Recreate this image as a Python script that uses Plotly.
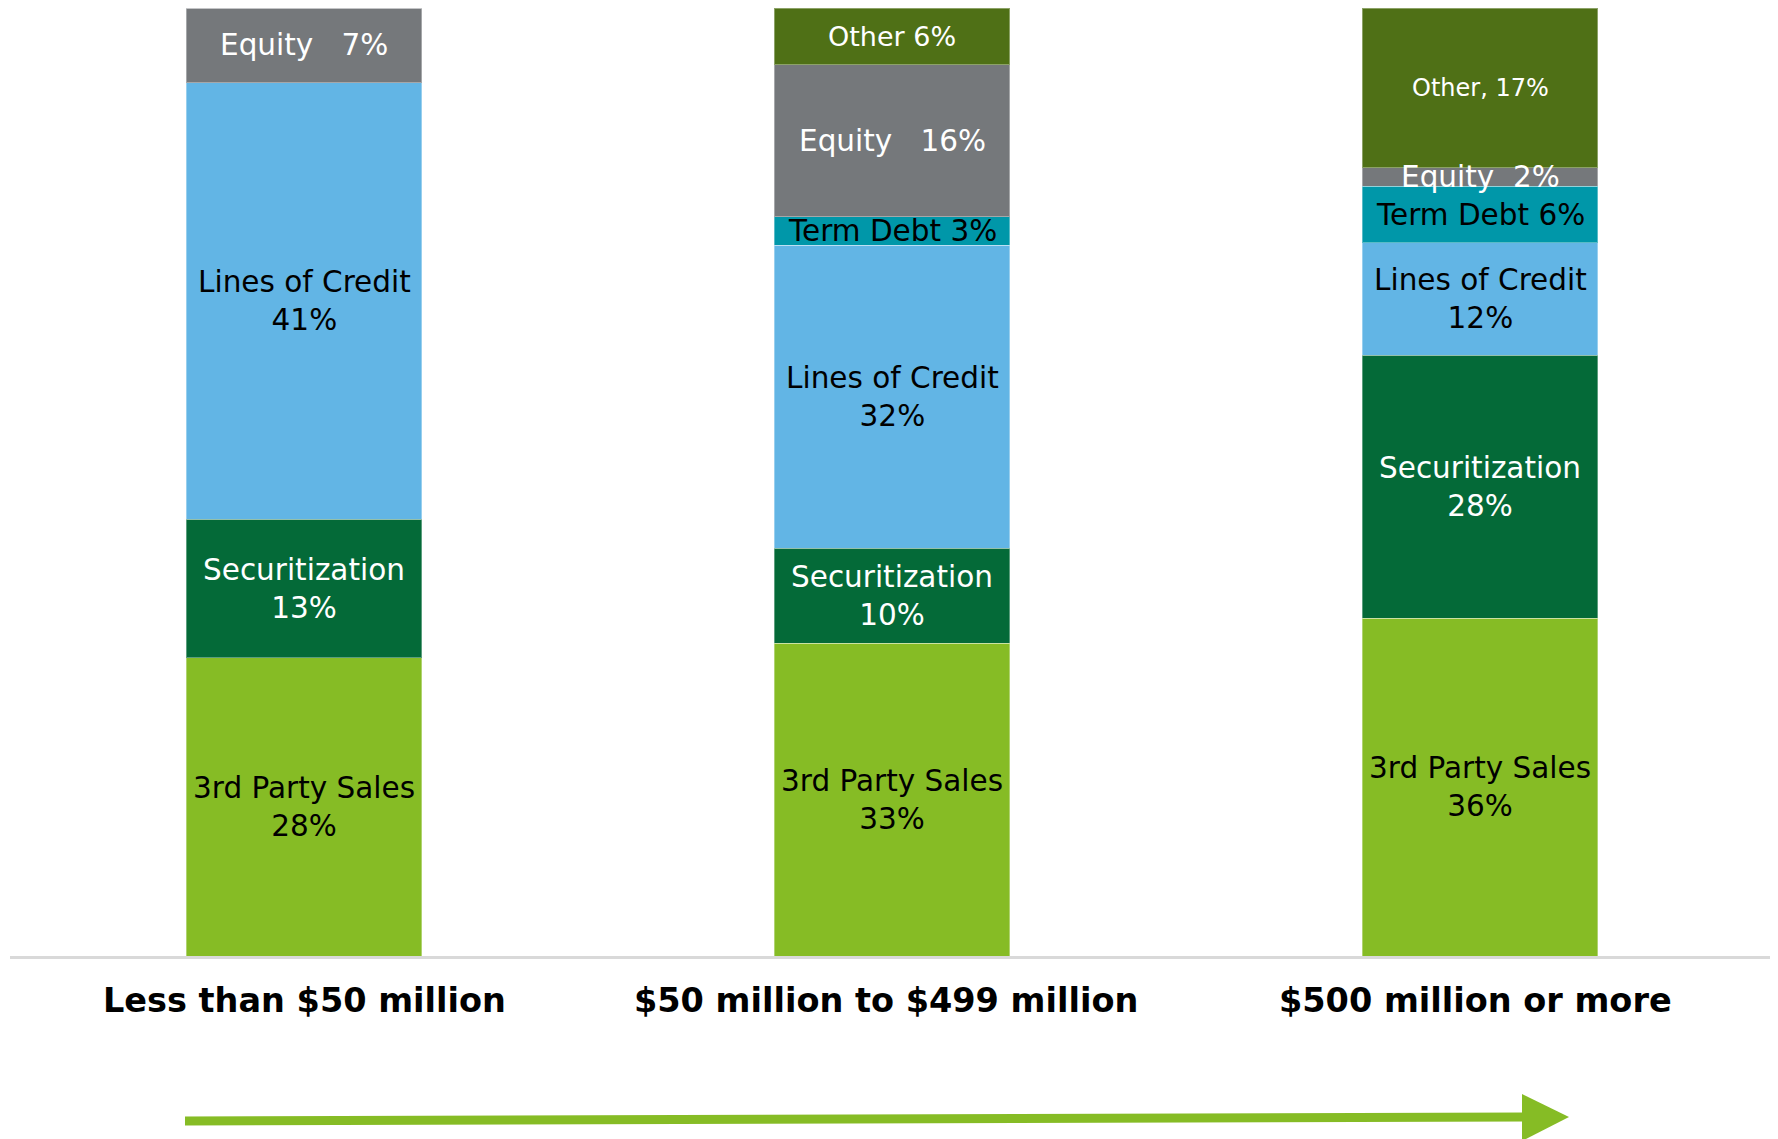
import plotly.graph_objects as go

# ---------------- data ----------------
categories = ["Less than $50 million", "$50 million to $499 million", "$500 million or more"]
third_party_sales = [28, 33, 36]
securitization = [13, 10, 28]
lines_of_credit = [41, 32, 12]
term_debt = [0, 3, 6]
equity = [7, 16, 2]
other = [0, 6, 17]

NB = "\u00a0"
third_party_labels = ["3rd Party Sales<br>28%", "3rd Party Sales<br>33%", "3rd Party Sales<br>36%"]
securitization_labels = ["Securitization<br>13%", "Securitization<br>10%", "Securitization<br>28%"]
loc_labels = ["Lines of Credit<br>41%", "Lines of Credit<br>32%", "Lines of Credit<br>12%"]
term_debt_labels = ["", "Term Debt 3%", "Term Debt 6%"]
equity_labels = ["Equity" + NB * 2 + " 7%", "Equity" + NB * 2 + " 16%", "Equity" + NB * 2 + "2%"]
other_labels = ["", "Other 6%", "Other, 17%"]

series = [
    ("3rd Party Sales", third_party_sales, third_party_labels, "#86bc25", "black", [29.5, 29.5, 29.5]),
    ("Securitization", securitization, securitization_labels, "#046a38", "white", [29.5, 29.5, 29.5]),
    ("Lines of Credit", lines_of_credit, loc_labels, "#62b5e5", "black", [29.5, 29.5, 29.5]),
    ("Term Debt", term_debt, term_debt_labels, "#0097a9", "black", [29.5, 29.5, 29.5]),
    ("Equity", equity, equity_labels, "#75787b", "white", [29.5, 29.5, 29.5]),
    ("Other", other, other_labels, "#4f7016", "white", [27, 27, 24]),
]

FONT = "DejaVu Sans, Verdana, sans-serif"
OFF = 8  # page body margin offset
W, H = 1770, 1131
ML, MR, MT, MB = 2, 4, 0, 183
PW, PH = W - ML - MR, H - MT - MB
CAT_XSHIFT = [0, -6, -5]


def px_x(p):  # page pixel -> paper x
    return (p - OFF - ML) / PW


def px_y(p):  # page pixel -> paper y
    return (H - MB - (p - OFF)) / PH


fig = go.Figure()
for name, vals, _, color, _, _ in series:
    fig.add_trace(go.Bar(
        x=categories, y=vals, name=name,
        marker=dict(color=color, line=dict(color="rgba(255,255,255,0.35)", width=1)),
        hoverinfo="skip",
    ))

# segment labels at the middle of each normalized segment
totals = [sum(s[1][i] for s in series) for i in range(len(categories))]
annotations = []
for i, cat in enumerate(categories):
    cum = 0.0
    for name, vals, labels, color, tcolor, sizes in series:
        v = vals[i] / totals[i] * 100
        if vals[i] > 0:
            annotations.append(dict(
                x=cat, y=cum + v / 2, xref="x", yref="y", text=labels[i],
                showarrow=False, font=dict(family=FONT, size=sizes[i], color=tcolor),
                xanchor="center", yanchor="middle",
            ))
        cum += v

for i, cat in enumerate(categories):
    annotations.append(dict(
        x=cat, y=0, xref="x", yref="y", text="<b>" + cat + "</b>",
        showarrow=False, font=dict(family=FONT, size=33.5, color="black"),
        xanchor="center", yanchor="middle", yshift=-44, xshift=CAT_XSHIFT[i],
    ))

shapes = [
    dict(type="line", xref="paper", yref="paper",
         x0=px_x(185), y0=px_y(1121), x1=px_x(1528), y1=px_y(1117),
         line=dict(color="#86bc25", width=9)),
    dict(type="path", xref="paper", yref="paper",
         path=f"M {px_x(1522)},{px_y(1094)} L {px_x(1569)},{px_y(1117)} L {px_x(1522)},{px_y(1141)} Z",
         fillcolor="#86bc25", line=dict(width=0)),
]

fig.update_layout(
    width=W, height=H,
    margin=dict(l=ML, r=MR, t=MT, b=MB, pad=0),
    barmode="stack", barnorm="percent", bargap=0.6,
    plot_bgcolor="white", paper_bgcolor="white",
    showlegend=False,
    annotations=annotations, shapes=shapes,
    xaxis=dict(showticklabels=False, showgrid=False, zeroline=False,
               showline=True, linecolor="#d9d9d9", linewidth=3, ticks=""),
    yaxis=dict(range=[0, 100], visible=False, showgrid=False, zeroline=False),
    font=dict(family=FONT),
)

fig.write_html("out.html")
